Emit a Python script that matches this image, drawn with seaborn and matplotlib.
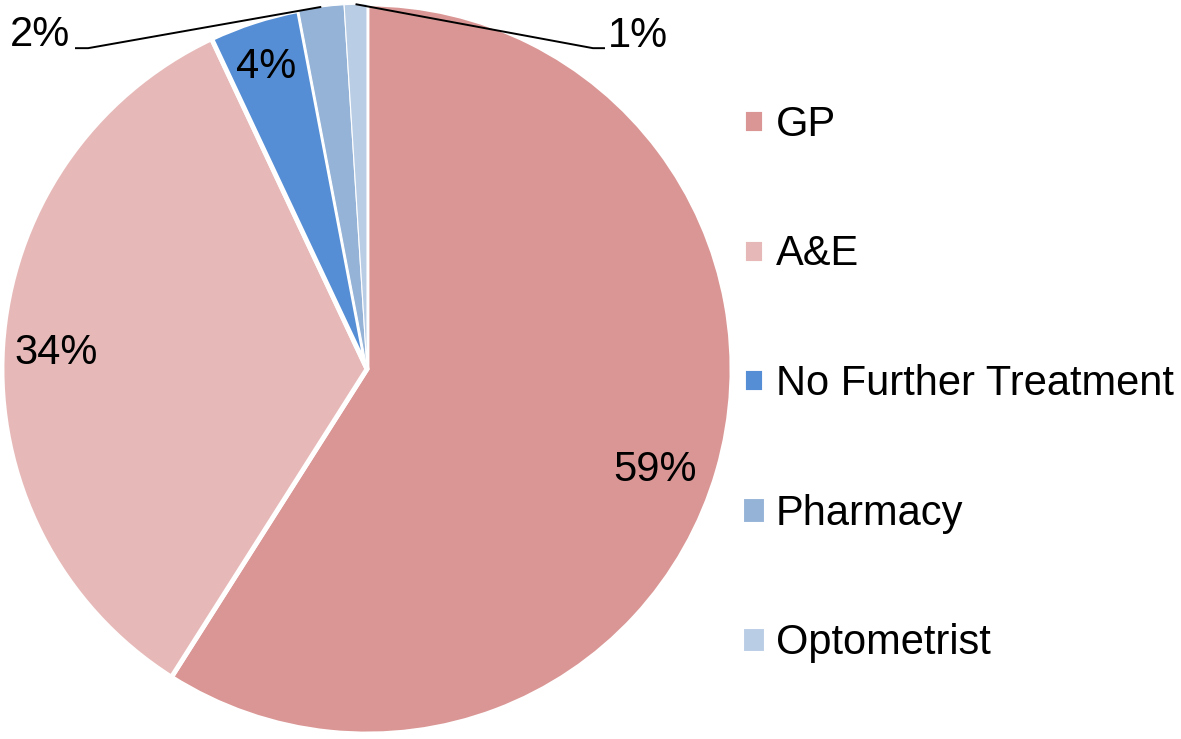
import numpy as np
import pandas as pd
import matplotlib
matplotlib.use("Agg")
import matplotlib.pyplot as plt
import seaborn as sns

# data
categories = ["GP", "A&E", "No Further Treatment", "Pharmacy", "Optometrist"]
shares = [59, 34, 4, 2, 1]
pct_labels = ["59%", "34%", "4%", "2%", "1%"]
colors = ["#D99694", "#E6B9B8", "#558ED5", "#95B3D7", "#B9CDE5"]

df = pd.DataFrame({"category": categories, "share": shares})

sns.set_theme(style="white")
plt.rcParams["font.family"] = ["Liberation Sans", "DejaVu Sans"]
plt.rcParams["text.color"] = "black"

fig = plt.figure(figsize=(11.81, 7.39), dpi=100)
W, H = 1181, 739
# pie axes: centre (367, 369) px, radius 365 px
ax = fig.add_axes([2 / W, (H - 734) / H, 730 / W, 730 / H])

wedges, _ = ax.pie(df["share"], colors=colors, startangle=90, counterclock=False,
                   radius=1, wedgeprops=dict(edgecolor="white", linewidth=3.5))
for w in wedges[3:]:
    w.set_linewidth(0.8)
ax.set_xlim(-1, 1)
ax.set_ylim(-1, 1)
ax.set_aspect("equal")
ax.axis("off")

fs = 30
# labels inside the slices
inside_pos = [(0.789, -0.277), (-0.852, 0.044), (-0.277, 0.827)]
for (x, y), txt in zip(inside_pos, pct_labels[:3]):
    ax.text(x, y, txt, ha="center", va="center", fontsize=fs, color="black")

# small slices: outside labels with leader lines
def edge_point(w):
    mid = np.deg2rad((w.theta1 + w.theta2) / 2)
    return np.cos(mid), np.sin(mid)

px, py = edge_point(wedges[3])
ax.plot([px, -0.764, -0.80], [py, 0.879, 0.879], color="black", lw=1.4,
        clip_on=False, solid_capstyle="butt")
ax.text(-0.814, 0.915, pct_labels[3], ha="right", va="center", fontsize=fs)

px, py = edge_point(wedges[4])
ax.plot([px, 0.619, 0.652], [py, 0.879, 0.879], color="black", lw=1.4,
        clip_on=False, solid_capstyle="butt")
ax.text(0.660, 0.912, pct_labels[4], ha="left", va="center", fontsize=fs)

leg = fig.legend(wedges, categories, loc="center left",
                 bbox_to_anchor=(743 / W, 1 - 384 / H), frameon=False,
                 fontsize=fs, borderpad=0, borderaxespad=0,
                 handlelength=0.5, handleheight=0.5, handletextpad=0.29,
                 labelspacing=2.15)
for t in leg.get_texts():
    t.set_color("black")

fig.savefig("out.png", dpi=100)
